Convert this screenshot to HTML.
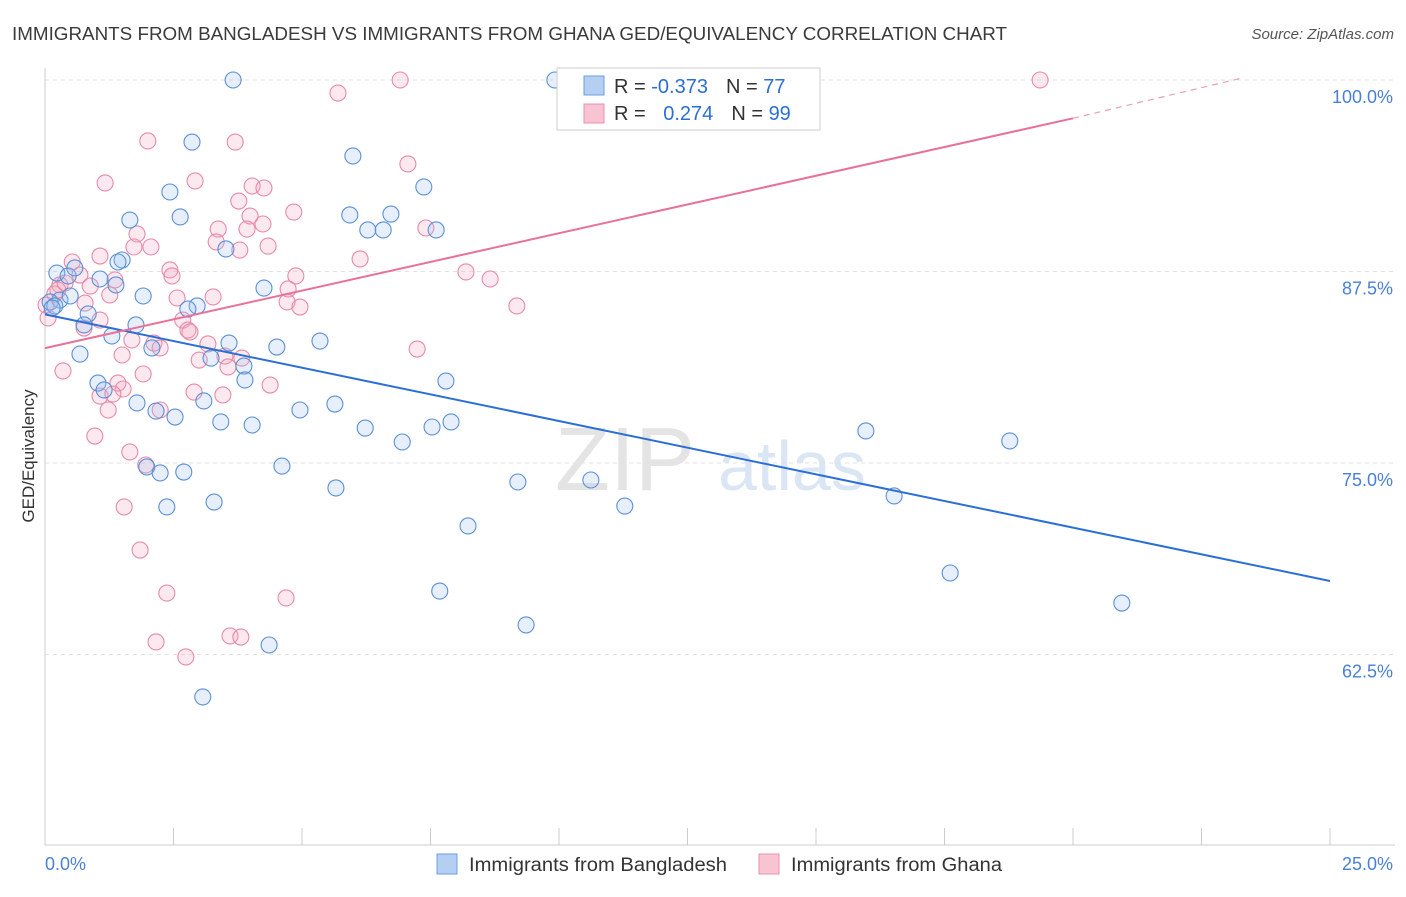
<!DOCTYPE html>
<html><head><meta charset="utf-8"><style>
body{margin:0;background:#fff;font-family:"Liberation Sans",sans-serif;}
svg text{font-family:"Liberation Sans",sans-serif;}
</style></head><body>
<svg id="chart" width="1406" height="892" viewBox="0 0 1406 892" xmlns="http://www.w3.org/2000/svg">
<text x="12" y="40" font-size="18.5" fill="#3a3a3a" textLength="995" lengthAdjust="spacingAndGlyphs">IMMIGRANTS FROM BANGLADESH VS IMMIGRANTS FROM GHANA GED/EQUIVALENCY CORRELATION CHART</text>
<text x="1394" y="39" font-size="15" fill="#555" text-anchor="end" font-style="italic">Source: ZipAtlas.com</text>
<g>
<text x="555" y="490" font-size="90" fill="#e4e4e4" font-family="Liberation Serif, serif">ZIP</text>
<text x="718" y="490" font-size="70" fill="#dbe6f5">atlas</text>
</g>
<g id="grid"></g>
<g id="axes"></g>
<g id="pts"></g>
<g id="lines"></g>
<text transform="translate(34,456) rotate(-90)" font-size="17" fill="#333" text-anchor="middle">GED/Equivalency</text>
<g>
<rect x="557" y="68" width="263" height="62" fill="#fff" stroke="#ccc"/>
<rect x="584" y="76" width="20" height="19" fill="#b5cff2" stroke="#6d9ce0"/>
<rect x="584" y="104" width="20" height="19" fill="#f8c4d4" stroke="#e890ad"/>
<text x="614" y="93" font-size="20" fill="#333">R = <tspan fill="#2b6fd4">-0.373</tspan><tspan dx="18">N = </tspan><tspan fill="#2b6fd4">77</tspan></text>
<text x="614" y="120" font-size="20" fill="#333">R = <tspan dx="12" fill="#2b6fd4">0.274</tspan><tspan dx="18">N = </tspan><tspan fill="#2b6fd4">99</tspan></text>
</g>
<g>
<rect x="437" y="854" width="20" height="20" fill="#b5cff2" stroke="#6d9ce0"/>
<text x="469" y="871" font-size="19" fill="#333" textLength="258" lengthAdjust="spacingAndGlyphs">Immigrants from Bangladesh</text>
<rect x="759" y="854" width="20" height="20" fill="#f8c4d4" stroke="#e890ad"/>
<text x="791" y="871" font-size="19" fill="#333" textLength="211" lengthAdjust="spacingAndGlyphs">Immigrants from Ghana</text>
</g>
</svg>
<script>
const yTicks=[100,87.5,75,62.5];
const yTickLabels=["100.0%","87.5%","75.0%","62.5%"];
const xTickLabels=["0.0%","25.0%"];
const blueX=[3.66,9.92,2.86,5.99,2.43,7.37,1.65,2.63,5.93,6.73,6.28,6.58,7.61,3.52,1.50,1.42,0.23,0.45,0.58,1.07,1.38,4.26,1.91,0.29,0.10,0.49,0.19,2.96,2.78,0.84,0.76,1.77,1.30,3.58,2.08,5.35,4.51,0.68,3.23,3.87,3.89,7.80,1.03,1.15,1.79,3.09,4.96,5.64,2.16,2.53,3.42,4.03,6.23,6.95,7.53,7.90,15.97,18.77,1.98,2.24,2.70,4.61,5.66,9.20,10.62,3.29,2.37,11.28,16.52,8.23,17.61,7.68,20.95,9.36,4.36,3.07,0.14];
const blueY=[100,100,95.95,95.04,92.69,93.02,90.86,91.06,91.19,91.25,90.21,90.21,90.21,88.97,88.25,88.12,87.40,87.21,87.73,87.01,86.62,86.42,85.90,85.64,85.51,85.90,85.25,85.25,85.05,84.73,84.01,84.01,83.29,82.83,82.51,82.96,82.57,82.11,81.85,81.33,80.42,80.35,80.22,79.77,78.92,79.05,78.46,78.85,78.39,78.00,77.68,77.48,77.28,76.37,77.35,77.68,77.09,76.44,74.74,74.35,74.41,74.80,73.37,73.76,73.89,72.45,72.13,72.19,72.85,70.89,67.82,66.64,65.86,64.43,63.12,59.73,85.12];
const pinkX=[6.91,19.36,5.70,2.00,3.70,7.06,1.17,2.92,4.03,4.26,3.77,4.84,3.99,3.37,4.24,1.79,3.93,7.41,3.33,2.06,4.34,1.73,1.07,3.79,6.13,0.53,2.43,2.47,8.19,8.66,4.88,0.68,1.36,0.29,0.88,0.19,4.73,3.27,1.26,2.57,0.78,4.71,4.96,9.18,1.07,2.68,0.76,2.78,2.82,1.69,2.12,3.17,2.24,7.24,1.50,3.00,3.50,3.83,3.56,1.91,0.35,1.42,1.52,4.38,1.07,1.32,2.90,3.46,1.23,2.24,0.97,1.65,1.96,1.54,1.85,2.37,4.69,2.16,3.60,3.81,2.74,0.06,0.02,0.25,0.39];
const pinkY=[100,100,99.15,96.02,95.95,94.52,93.28,93.41,93.08,92.95,92.10,91.38,91.12,90.27,90.60,89.95,90.27,90.34,89.43,89.10,89.16,89.10,88.51,88.90,88.32,88.12,87.60,87.21,87.47,87.01,87.21,87.27,86.95,86.62,86.55,86.03,86.36,85.84,85.97,85.77,85.44,85.51,85.18,85.25,84.33,84.33,83.81,83.68,83.55,83.03,82.83,82.77,82.51,82.44,82.05,81.72,81.98,81.85,81.27,80.81,81.01,80.22,79.83,80.09,79.37,79.50,79.63,79.44,78.46,78.46,76.76,75.72,74.87,72.13,69.32,66.51,66.19,63.32,63.71,63.64,62.34,84.47,85.31,86.29,86.75];
const blueTrend=[[0,84.7],[25,67.3]];
const pinkTrend=[[0,82.5],[20,97.5]];
const pinkTrendExt=[[20,97.5],[23.25,100.1]];

const NS="http://www.w3.org/2000/svg";
const xs=v=>45+v/25*1285;
const ys=v=>80+(100-v)/12.5*191.5;
function mk(tag,attrs,parent){const e=document.createElementNS(NS,tag);for(const k in attrs)e.setAttribute(k,attrs[k]);parent.appendChild(e);return e;}
const grid=document.getElementById('grid'),axes=document.getElementById('axes'),pts=document.getElementById('pts'),lines=document.getElementById('lines');
yTicks.forEach((t,i)=>{
  const l=mk('line',{x1:45,x2:1395,y1:ys(t),y2:ys(t),stroke:'#e2e2e2','stroke-dasharray':'4,4'},grid);
  
  
  const tx=mk('text',{x:1393,y:ys(t)+23,'font-size':18,fill:'#4a80d4','text-anchor':'end'},grid);
  tx.textContent=yTickLabels[i];
  
  
});
mk('line',{x1:45,x2:45,y1:68,y2:845,stroke:'#ccc'},axes);
mk('line',{x1:45,x2:1395,y1:845,y2:845,stroke:'#ccc'},axes);
for(let i=0;i<=10;i++){const t=mk('line',{x1:xs(i*2.5),x2:xs(i*2.5),y1:828,y2:845,stroke:'#ccc'},axes);
  
  }
const xl0=mk('text',{x:45,y:870,'font-size':18,fill:'#4a80d4'},axes);xl0.textContent=xTickLabels[0];


const xl1=mk('text',{x:1393,y:870,'font-size':18,fill:'#4a80d4','text-anchor':'end'},axes);xl1.textContent=xTickLabels[1];


function drawPts(X,Y,fill,stroke,name){for(let i=0;i<X.length;i++){const c=mk('circle',{cx:xs(X[i]),cy:ys(Y[i]),r:8,fill:fill,'fill-opacity':0.25,stroke:stroke,'stroke-width':1.1},pts);
  
  }}
drawPts(pinkX,pinkY,'#f4a9c1','#e68aa8','ghana-point');
drawPts(blueX,blueY,'#9cc0ee','#5b8fd6','bangladesh-point');
const bl=mk('line',{x1:xs(blueTrend[0][0]),y1:ys(blueTrend[0][1]),x2:xs(blueTrend[1][0]),y2:ys(blueTrend[1][1]),stroke:'#2b6fd4','stroke-width':2},lines);


const pl=mk('line',{x1:xs(pinkTrend[0][0]),y1:ys(pinkTrend[0][1]),x2:xs(pinkTrend[1][0]),y2:ys(pinkTrend[1][1]),stroke:'#e8709a','stroke-width':2},lines);


const pe=mk('line',{x1:xs(pinkTrendExt[0][0]),y1:ys(pinkTrendExt[0][1]),x2:xs(pinkTrendExt[1][0]),y2:ys(pinkTrendExt[1][1]),stroke:'#e8a0b8','stroke-width':1.2,'stroke-dasharray':'6,5'},lines);


</script>
</body></html>
